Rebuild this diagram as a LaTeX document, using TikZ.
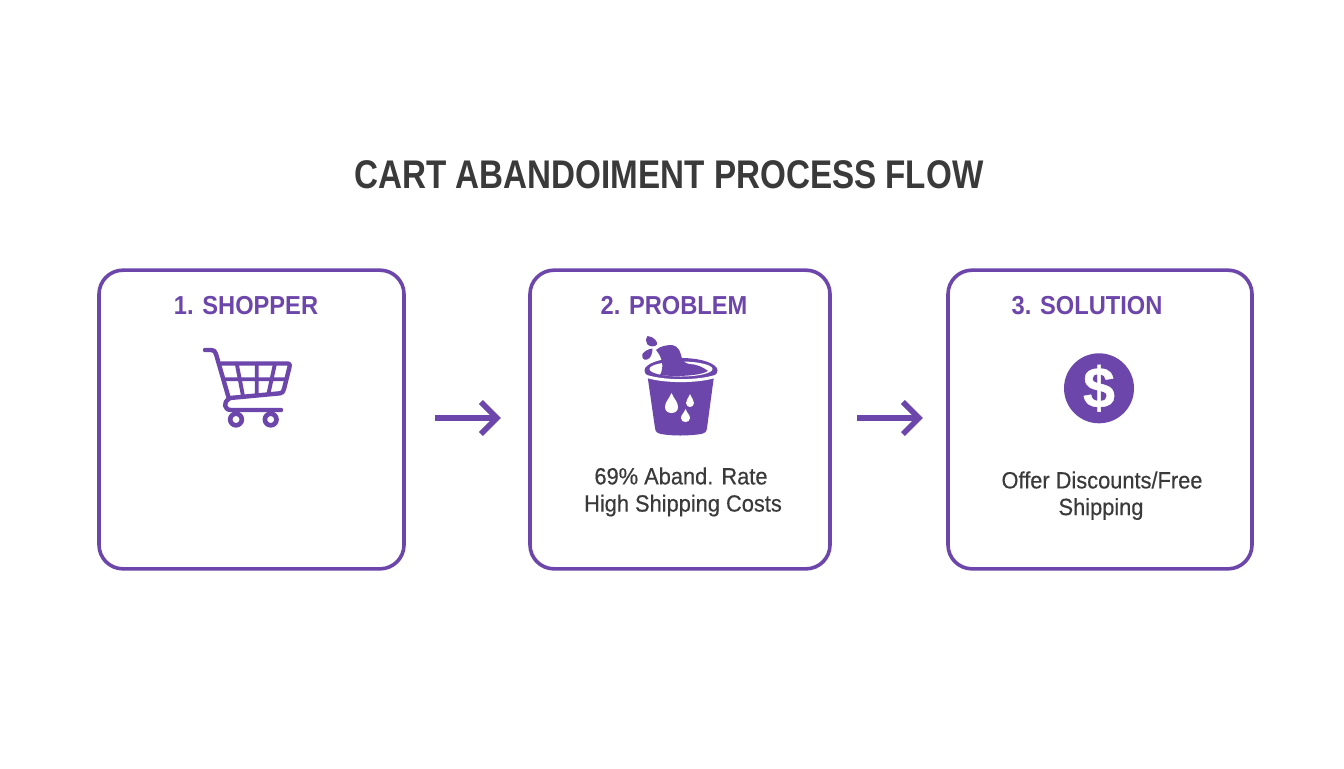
\documentclass[tikz,border=0pt]{standalone}
\usepackage{fontspec}
\usetikzlibrary{arrows.meta}
\setmainfont{Liberation Sans}[FakeStretch=0.91]
\newfontfamily\titlefont{Liberation Sans}[FakeStretch=0.83]
\newfontfamily\bodyfont{Liberation Sans}[FakeStretch=0.93,FakeBold=0.4]
\newfontfamily\coinfont{Liberation Sans}[BoldFeatures={FakeBold=0.8}]
\definecolor{vio}{HTML}{6C46AB}
\definecolor{ink}{HTML}{3A3A3A}
\tikzset{
 box/.style={draw=vio,line width=2.7pt,rounded corners=18pt,minimum height=224pt,inner sep=0,fill=white},
 ttl/.style={font=\titlefont\bfseries\fontsize{30}{36}\selectfont,text=ink,inner sep=0},
 hd/.style={font=\bfseries\fontsize{19.5}{24}\selectfont,text=vio,inner sep=0},
 txt/.style={font=\bodyfont\fontsize{17.6}{22}\selectfont,text=ink,inner sep=0},
 flow/.style={draw=vio,line width=4.2pt,-{Straight Barb[length=12pt,width=24pt,line width=4.2pt]}},
 ico/.style={draw=vio,line width=3.3pt,line join=round,line cap=round},
}
\begin{document}
\begin{tikzpicture}[x=0.75pt,y=-0.75pt]
\useasboundingbox (0,0) rectangle (1344,768);
\fill[white] (0,0) rectangle (1344,768);
\node[ttl] (title) at (669,175) {CART ABANDOIMENT PROCESS FLOW};
\node[box,minimum width=228.75pt] (b1) at (251.5,419.5) {};
\node[box,minimum width=225pt] (b2) at (680,419.5) {};
\node[box,minimum width=228pt] (b3) at (1100,419.5) {};
\node[hd] (h1) at (246,306) {1. SHOPPER};
\node[hd] (h2) at (674,306) {2. PROBLEM};
\node[hd] (h3) at (1087,306) {3. SOLUTION};
\node[txt] (t1) at (681,476) {69\% Aband. Rate};
\node[txt] (t2) at (683,505.5) {High Shipping Costs};
\node[txt] (t3) at (1102,480) {Offer Discounts/Free};
\node[txt] (t4) at (1101,509) {Shipping};
% connectors
\draw[flow,shorten <=21.8pt,shorten >=20.5pt] ([yshift=1.1pt]b1.east) -- ([yshift=1.1pt]b2.west);
\draw[flow,shorten <=18.8pt,shorten >=17.5pt] ([yshift=1.1pt]b2.east) -- ([yshift=1.1pt]b3.west);
% cart
\draw[ico] (205,350) -- (211,350) .. controls (214,350) and (215,351) .. (216,354)
  -- (229,399) .. controls (223,402) and (224,410) .. (231,410) -- (281,410);
\draw[ico] (221.5,363.5) -- (288,363.5) .. controls (290,363.5) and (290,365) .. (289.5,367)
  -- (284,389) .. controls (283.5,392) and (282,393) .. (280,393.3) -- (230,398);
\draw[ico,line width=2.9pt] (225.5,379.3) -- (286,379.3)
  (236.7,363.5) -- (243,396) (256.7,363.5) -- (256.7,395) (275,363.5) -- (268.5,393.5);
\draw[ico,line width=3.5pt] (236,419.5) circle (5.8) (270.7,419.5) circle (5.8);
% bucket
\fill[vio] (647.5,376) -- (714,376) -- (707,428)
  .. controls (706.5,432) and (705,433) .. (701,434) .. controls (688,436) and (672,436) .. (661,434)
  .. controls (657,433) and (655.5,432) .. (655,428) -- cycle;
\fill[vio] (681,370.5) ellipse (36.5 and 12.5);
\fill[white] (681,369) ellipse (31.5 and 7.5);
\fill[vio] (656,350) .. controls (660,346) and (667,345) .. (672,345)
  .. controls (678,346) and (680,351) .. (681,355) .. controls (682,360) and (684,363) .. (689,364)
  .. controls (696,364) and (703,367) .. (708,371) .. controls (700,376) and (675,377) .. (660,375)
  .. controls (664,368) and (663,358) .. (656,350) -- cycle;
\draw[white,line width=2.2pt] (647,376.5) .. controls (665,382) and (697,382) .. (715,376.5);
\fill[vio] (647.5,336) .. controls (654,336.5) and (658,342) .. (657,344.5) .. controls (655,347) and (650,347) .. (647.5,344.5) .. controls (645.5,342) and (645.5,339) .. (647.5,336) -- cycle;
\fill[vio] (652.5,348.5) .. controls (652.5,353) and (651,358.5) .. (647,359.5) .. controls (643.5,360.5) and (641.5,358) .. (642.5,354) .. controls (644,351.5) and (648,349) .. (652.5,348.5) -- cycle;
\fill[white] (671.5,393) .. controls (674,399) and (678,402) .. (678,407) .. controls (678,411) and (675,413) .. (671.5,413) .. controls (668,413) and (665,411) .. (665,407) .. controls (665,402) and (669,399) .. (671.5,393) -- cycle;
\fill[white] (690,394) .. controls (691.5,398) and (694,400) .. (694,403) .. controls (694,405.5) and (692,407) .. (690,407) .. controls (688,407) and (686,405.5) .. (686,403) .. controls (686,400) and (688.5,398) .. (690,394) -- cycle;
\fill[white] (685.5,409) .. controls (687,413) and (690,415) .. (690,418) .. controls (690,420.5) and (688,422) .. (685.5,422) .. controls (683,422) and (681,420.5) .. (681,418) .. controls (681,415) and (684,413) .. (685.5,409) -- cycle;
% dollar
\node[circle,fill=vio,minimum size=52.5pt,inner sep=0] (coin) at (1099,388.3) {};
\node[font=\coinfont\bfseries\fontsize{43}{46}\selectfont,text=white,inner sep=0] (dollar) at (coin) {\$};
\end{tikzpicture}
\end{document}
